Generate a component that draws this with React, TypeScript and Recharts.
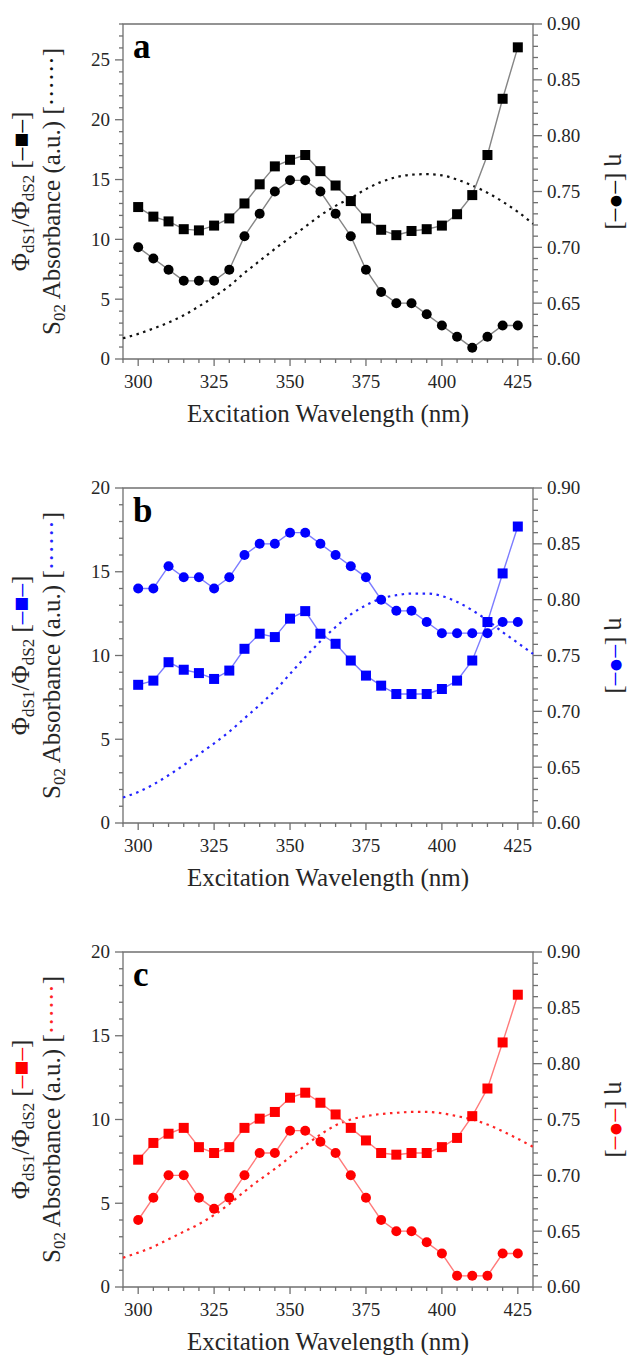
import React from 'react'
import { ComposedChart, Line, XAxis, YAxis, ReferenceArea } from 'recharts'

// wavelength grid (nm); markers are measured 300–425, absorbance spans the whole axis
const WAVELENGTH = [295, 300, 305, 310, 315, 320, 325, 330, 335, 340, 345, 350, 355, 360, 365, 370, 375, 380, 385, 390, 395, 400, 405, 410, 415, 420, 425, 430]

const RATIO_A = [12.7, 11.9, 11.5, 10.85, 10.75, 11.15, 11.75, 13.0, 14.6, 16.1, 16.65, 17.05, 15.7, 14.5, 13.2, 11.75, 10.8, 10.35, 10.7, 10.85, 11.15, 12.1, 13.7, 17.05, 21.75, 26.05]
const ETA_A = [0.70, 0.69, 0.68, 0.67, 0.67, 0.67, 0.68, 0.71, 0.73, 0.75, 0.76, 0.76, 0.75, 0.73, 0.71, 0.68, 0.66, 0.65, 0.65, 0.64, 0.63, 0.62, 0.61, 0.62, 0.63, 0.63]
const ABS_A = [1.73, 2.1, 2.55, 3.05, 3.65, 4.4, 5.2, 6.1, 7.2, 8.2, 9.2, 10.15, 11.05, 12.0, 12.8, 13.45, 14.2, 14.8, 15.2, 15.4, 15.45, 15.35, 15.0, 14.5, 13.9, 13.15, 12.3, 11.3]

const RATIO_B = [8.25, 8.5, 9.6, 9.15, 8.95, 8.6, 9.1, 10.4, 11.3, 11.1, 12.2, 12.65, 11.3, 10.7, 9.7, 8.8, 8.2, 7.7, 7.7, 7.7, 8.0, 8.5, 9.7, 12.0, 14.9, 17.7]
const ETA_B = [0.81, 0.81, 0.83, 0.82, 0.82, 0.81, 0.82, 0.84, 0.85, 0.85, 0.86, 0.86, 0.85, 0.84, 0.83, 0.82, 0.80, 0.79, 0.79, 0.78, 0.77, 0.77, 0.77, 0.77, 0.78, 0.78]
const ABS_B = [1.52, 1.85, 2.3, 2.85, 3.45, 4.1, 4.75, 5.45, 6.25, 7.05, 7.9, 8.9, 9.9, 10.85, 11.7, 12.45, 13.0, 13.4, 13.6, 13.7, 13.7, 13.55, 13.2, 12.7, 12.1, 11.4, 10.75, 10.1]

const RATIO_C = [7.6, 8.6, 9.15, 9.5, 8.35, 8.0, 8.35, 9.5, 10.05, 10.45, 11.3, 11.6, 11.0, 10.3, 9.5, 8.75, 8.0, 7.9, 8.0, 8.0, 8.35, 8.9, 10.2, 11.85, 14.6, 17.45]
const ETA_C = [0.66, 0.68, 0.70, 0.70, 0.68, 0.67, 0.68, 0.70, 0.72, 0.72, 0.74, 0.74, 0.73, 0.72, 0.70, 0.68, 0.66, 0.65, 0.65, 0.64, 0.63, 0.61, 0.61, 0.61, 0.63, 0.63]
const ABS_C = [1.75, 2.05, 2.4, 2.85, 3.3, 3.75, 4.3, 4.95, 5.7, 6.4, 7.05, 7.75, 8.45, 9.1, 9.65, 10.0, 10.2, 10.33, 10.4, 10.45, 10.45, 10.37, 10.2, 10.0, 9.7, 9.3, 8.85, 8.37]

const X_MAJOR = [300, 325, 350, 375, 400, 425]
const SERIF = { fontFamily: "'Liberation Serif', 'Times New Roman', serif" }
const AXIS = '#707070'
const INK = '#262626'

// plot box, same in every panel (chart-local coords)
const LEFT = 123
const RIGHT = 533
const TOP = 24
const BOTTOM = 359

const PANELS = [
  { letter: 'a', height: 464, yMax: 28, ratio: RATIO_A, eta: ETA_A, abs: ABS_A, mark: '#000000', line: '#858585', dots: '#111111' },
  { letter: 'b', height: 464, yMax: 20, ratio: RATIO_B, eta: ETA_B, abs: ABS_B, mark: '#0000ff', line: '#7c7cff', dots: '#2424ff' },
  { letter: 'c', height: 427, yMax: 20, ratio: RATIO_C, eta: ETA_C, abs: ABS_C, mark: '#ff0000', line: '#ff7a7a', dots: '#ff2424' },
]

const xTicks = WAVELENGTH
const rightTicks = Array.from({ length: 31 }, (_, i) => (60 + i) / 100)

function XTick({ x, payload }: any) {
  const v = payload.value
  const major = X_MAJOR.includes(v)
  return (
    <g>
      <line x1={x} x2={x} y1={BOTTOM} y2={BOTTOM + (major ? 7 : 4)} stroke={AXIS} strokeWidth={1.3} />
      {major && <text x={x} y={BOTTOM + 29} textAnchor="middle" style={SERIF} fontSize={19} fill={INK}>{v}</text>}
    </g>
  )
}

function LeftTick({ y, payload }: any) {
  const v = payload.value
  const major = v % 5 === 0
  return (
    <g>
      <line x1={LEFT - (major ? 8 : 4)} x2={LEFT} y1={y} y2={y} stroke={AXIS} strokeWidth={1.3} />
      {major && <text x={LEFT - 13} y={y} dy="0.34em" textAnchor="end" style={SERIF} fontSize={19} fill={INK}>{v}</text>}
    </g>
  )
}

function RightTick({ y, payload }: any) {
  const v = payload.value
  const major = Math.round(v * 100) % 5 === 0
  return (
    <g>
      <line x1={RIGHT} x2={RIGHT + (major ? 9 : 5)} y1={y} y2={y} stroke={AXIS} strokeWidth={1.3} />
      {major && <text x={RIGHT + 14} y={y} dy="0.34em" textAnchor="start" style={SERIF} fontSize={19} fill={INK}>{v.toFixed(2)}</text>}
    </g>
  )
}

const squareDot = (color: string) => (p: any) => {
  if (p.cx == null || p.cy == null || p.value == null) return <g key={p.index} />
  return <rect key={p.index} x={p.cx - 5} y={p.cy - 5} width={10} height={10} fill={color} />
}

function Titles({ p }: { p: typeof PANELS[number] }) {
  const cy = (TOP + BOTTOM) / 2
  return (
    <svg width={632} height={p.height} style={{ position: 'absolute', left: 0, top: 0, pointerEvents: 'none' }}>
      <text x={133} y={TOP + 34} style={SERIF} fontWeight="bold" fontSize={35} fill="#000">{p.letter}</text>
      <text x={(LEFT + RIGHT) / 2} y={BOTTOM + 63} textAnchor="middle" style={SERIF} fontSize={25} fill={INK}>
        Excitation Wavelength (nm)
      </text>
      <text x={29} y={cy} transform={`rotate(-90 29 ${cy})`} textAnchor="middle" style={SERIF} fontSize={25} fill={INK}>
        Φ<tspan fontSize={17} dy={5}>dS1</tspan>
        <tspan dy={-5}>/Φ</tspan>
        <tspan fontSize={17} dy={5}>dS2</tspan>
        <tspan dy={-5}> [</tspan>
        <tspan fill={p.mark}>–■–</tspan>]
      </text>
      <text x={60} y={cy} transform={`rotate(-90 60 ${cy})`} textAnchor="middle" style={SERIF} fontSize={25} fill={INK}>
        S<tspan fontSize={17} dy={5}>02</tspan>
        <tspan dy={-5}> Absorbance (a.u.) [</tspan>
        <tspan fill={p.dots}>······</tspan>]
      </text>
      <text x={609} y={cy} transform={`rotate(90 609 ${cy})`} textAnchor="middle" style={SERIF} fontSize={25} fill={INK}>
        η [<tspan fill={p.mark}>–●–</tspan>]
      </text>
    </svg>
  )
}

function Panel({ p }: { p: typeof PANELS[number] }) {
  const rows = WAVELENGTH.map((w, i) => ({
    w,
    ratio: i >= 1 && i <= 26 ? p.ratio[i - 1] : null,
    eta: i >= 1 && i <= 26 ? p.eta[i - 1] : null,
    abs: p.abs[i],
  }))
  const leftTicks = Array.from({ length: p.yMax + 1 }, (_, i) => i)
  return (
    <div style={{ position: 'relative', width: 632, height: p.height }}>
      <ComposedChart width={632} height={p.height} data={rows} margin={{ top: TOP, right: 39, left: 63, bottom: p.height - BOTTOM - 30 }}>
        <XAxis dataKey="w" type="number" domain={[295, 430]} ticks={xTicks} interval={0} height={30}
          axisLine={false} tickLine={false} tickSize={0} tickMargin={0} tick={(t: any) => <XTick {...t} />} />
        <YAxis yAxisId="l" domain={[0, p.yMax]} ticks={leftTicks} interval={0} width={60}
          axisLine={false} tickLine={false} tickSize={0} tickMargin={0} tick={(t: any) => <LeftTick {...t} />} />
        <YAxis yAxisId="r" orientation="right" domain={[0.6, 0.9]} ticks={rightTicks} interval={0} width={60}
          axisLine={false} tickLine={false} tickSize={0} tickMargin={0} tick={(t: any) => <RightTick {...t} />} />
        <ReferenceArea yAxisId="l" x1={295} x2={430} y1={0} y2={p.yMax} fill="none" fillOpacity={0} stroke={AXIS} strokeWidth={1.3} />
        <Line yAxisId="l" dataKey="abs" type="monotone" stroke={p.dots} strokeWidth={2.2} strokeDasharray="2.5 4.5" dot={false} isAnimationActive={false} />
        <Line yAxisId="r" dataKey="eta" type="linear" stroke={p.line} strokeWidth={1.4} dot={{ r: 5, fill: p.mark, stroke: 'none' }} isAnimationActive={false} />
        <Line yAxisId="l" dataKey="ratio" type="linear" stroke={p.line} strokeWidth={1.4} dot={squareDot(p.mark)} isAnimationActive={false} />
      </ComposedChart>
      <Titles p={p} />
    </div>
  )
}

export default function App() {
  return (
    <div style={{ width: 632, height: 1355, background: '#fff' }}>
      <style>{'body{margin:0}'}</style>
      {PANELS.map((p) => <Panel key={p.letter} p={p} />)}
    </div>
  )
}
